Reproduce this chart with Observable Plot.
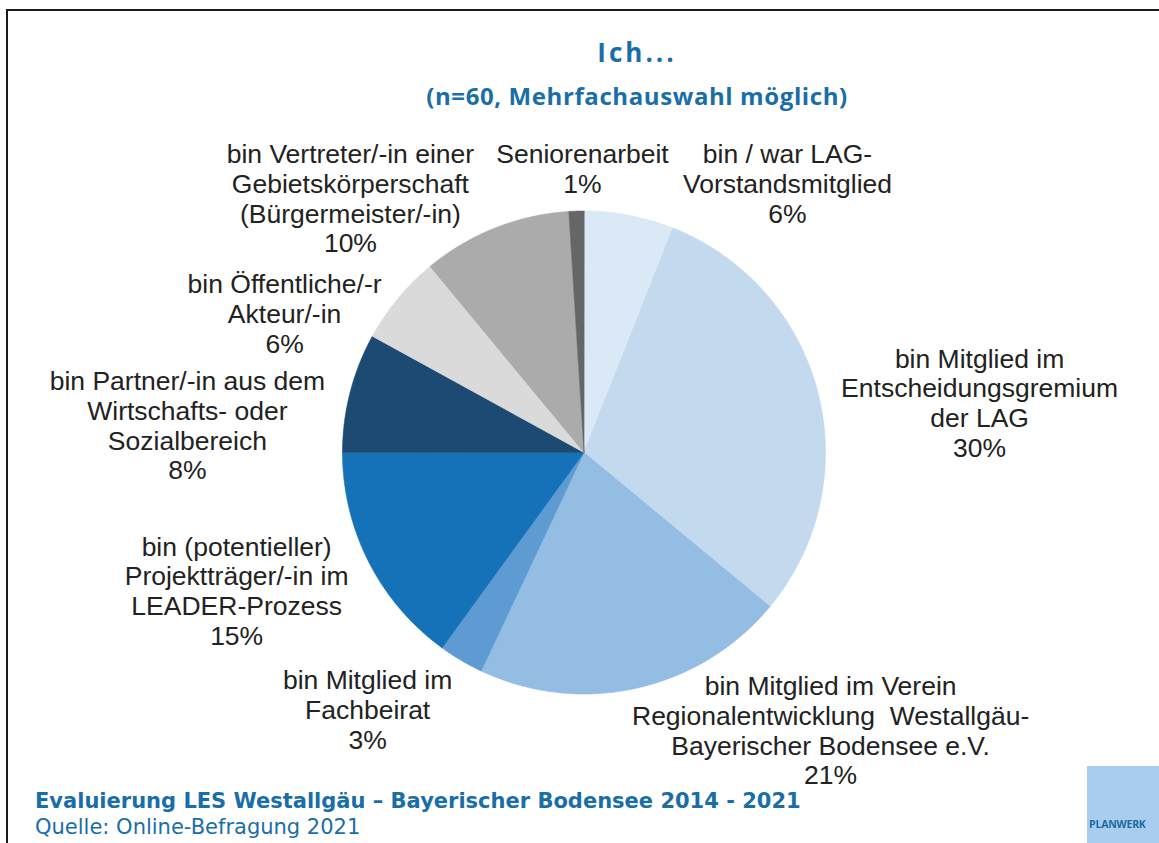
<!DOCTYPE html>
<html>
<head>
<meta charset="utf-8">
<script src="https://cdn.jsdelivr.net/npm/d3@7"></script>
<script src="https://cdn.jsdelivr.net/npm/@observablehq/plot@0.6"></script>
<style>
  html, body { margin: 0; padding: 0; background: #fff; }
  #page { position: relative; width: 1159px; height: 843px; overflow: hidden; background: #fff; }
  #frame { position: absolute; left: 6px; top: 9px; right: -4px; bottom: -4px; border-top: 2px solid #1a1a1a; border-left: 2px solid #1a1a1a; }
  .blue { color: #1a6ea8; font-family: "Open Sans", sans-serif; position: absolute; white-space: nowrap; line-height: 1; }
  #title { left: 437px; width: 400px; top: 39px; text-align: center; font-size: 26px; font-weight: 700; letter-spacing: 3px; }
  #subtitle { left: 287px; width: 700px; top: 84px; text-align: center; font-size: 24px; font-weight: 700; letter-spacing: 0.6px; }
  #foot1 { left: 35px; top: 791px; font-family: "DejaVu Sans", sans-serif; font-size: 21px; font-weight: 700; }
  #foot2 { left: 35px; top: 816.5px; font-family: "DejaVu Sans", sans-serif; font-size: 21px; font-weight: 400; }
  #logo { position: absolute; left: 1087px; top: 766px; width: 72px; height: 77px; background: #a9cdee; }
  #logo span { position: absolute; left: 2px; top: 51px; font-family: "Open Sans", sans-serif; font-weight: 700; font-size: 10.5px; color: #1c6aa5; letter-spacing: -0.2px; }
  #chart { position: absolute; left: 0; top: 125px; }
  #chart svg { overflow: visible; }
</style>
</head>
<body>
<div id="page">
  <div id="frame"></div>
  <div id="title" class="blue">Ich...</div>
  <div id="subtitle" class="blue">(n=60, Mehrfachauswahl möglich)</div>
  <div id="chart"></div>
  <div id="foot1" class="blue">Evaluierung LES Westallgäu – Bayerischer Bodensee 2014 - 2021</div>
  <div id="foot2" class="blue">Quelle: Online-Befragung 2021</div>
  <div id="logo"><span>PLANWERK</span></div>
</div>
<script>
// Categories in clockwise order starting at 12 o'clock
const categories = [
  "bin / war LAG-\nVorstandsmitglied",
  "bin Mitglied im\nEntscheidungsgremium\nder LAG",
  "bin Mitglied im Verein\nRegionalentwicklung  Westallgäu-\nBayerischer Bodensee e.V.",
  "bin Mitglied im\nFachbeirat",
  "bin (potentieller)\nProjektträger/-in im\nLEADER-Prozess",
  "bin Partner/-in aus dem\nWirtschafts- oder\nSozialbereich",
  "bin Öffentliche/-r\nAkteur/-in",
  "bin Vertreter/-in einer\nGebietskörperschaft\n(Bürgermeister/-in)",
  "Seniorenarbeit"
];
const values = [6, 30, 21, 3, 15, 8, 6, 10, 1]; // percent

const colors = ["#dbe9f6", "#c3d9ee", "#93bde2", "#5d9bd2", "#1572b8", "#1d4a72", "#dadada", "#ababab", "#666666"];

// label layout: polar angle (deg, clockwise from top) and distance (in radii)
const labelAngle = [37.1, 82.8, 138.4, 220.1, 248.3, 273.9, 294.9, 317.4, 359.7];
const labelDist  = [1.397, 1.651, 1.538, 1.391, 1.548, 1.646, 1.367, 1.429, 1.176];

const arcs = d3.pie().sort(null).value(d => d)(values);

const slicePts = arcs.flatMap((a, i) => {
  const cat = categories[i];
  const n = Math.max(2, Math.ceil((a.endAngle - a.startAngle) / (Math.PI / 360)));
  const pts = [{cat, x: 0, y: 0}];
  for (let k = 0; k <= n; k++) {
    const t = a.startAngle + (a.endAngle - a.startAngle) * k / n;
    pts.push({cat, x: Math.sin(t), y: Math.cos(t)});
  }
  return pts;
});

const labels = categories.map((c, i) => {
  const t = labelAngle[i] * Math.PI / 180;
  return {
    text: c + "\n" + values[i] + "%",
    x: labelDist[i] * Math.sin(t),
    y: labelDist[i] * Math.cos(t)
  };
});

const cx = 583.5, cy = 327, r = 241.5;

const chart = Plot.plot({
  width: 1159,
  height: 670,
  margin: 0,
  style: {background: "transparent", overflow: "visible"},
  x: {domain: [-1, 1], range: [cx - r, cx + r], axis: null},
  y: {domain: [-1, 1], range: [cy + r, cy - r], axis: null},
  color: {domain: categories, range: colors},
  marks: [
    Plot.line(slicePts, {x: "x", y: "y", z: "cat", fill: "cat", stroke: "cat", strokeWidth: 0.6, curve: "linear-closed"}),
    Plot.text(labels, {
      x: "x", y: "y", text: "text",
      fontSize: 26.5, lineHeight: 1.12,
      fill: "#222", textAnchor: "middle",
      fontFamily: "Liberation Sans, Arial, sans-serif"
    })
  ]
});
document.getElementById("chart").appendChild(chart);
</script>
</body>
</html>
